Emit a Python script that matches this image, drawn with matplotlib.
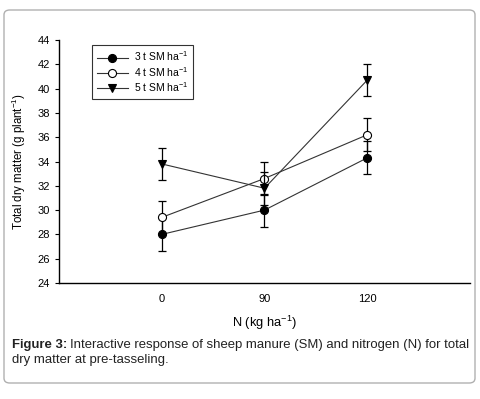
import matplotlib.pyplot as plt
from matplotlib.patches import FancyBboxPatch

plt.rcParams['font.family'] = ['Liberation Sans', 'DejaVu Sans']
plt.rcParams['mathtext.fontset'] = 'custom'
plt.rcParams['mathtext.rm'] = 'Liberation Sans'
plt.rcParams['mathtext.it'] = 'Liberation Sans:italic'
plt.rcParams['mathtext.bf'] = 'Liberation Sans:bold'

# 데이터
n_labels = ['0', '90', '120']
sm3 = [28.0, 30.0, 34.3]
sm4 = [29.4, 32.6, 36.2]
sm5 = [33.8, 31.8, 40.7]
err = [1.35, 1.35, 1.35]

fig = plt.figure(figsize=(4.81, 3.99), dpi=100)

# 바깥 테두리
box = FancyBboxPatch((4 / 481, 16 / 399), 471 / 481, 373 / 399,
                     boxstyle='round,pad=0,rounding_size=0.012',
                     transform=fig.transFigure, fill=False,
                     edgecolor='#b0b0b0', linewidth=1.0)
fig.patches.append(box)

ax = fig.add_axes([59 / 481, 1 - 283 / 399, 411 / 481, 243 / 399])
x = [1, 2, 3]

for y, mfc, mk, lab in [(sm3, 'black', 'o', '3 t SM ha$^{-1}$'),
                        (sm4, 'white', 'o', '4 t SM ha$^{-1}$'),
                        (sm5, 'black', 'v', '5 t SM ha$^{-1}$')]:
    ax.errorbar(x, y, yerr=err, fmt='none', ecolor='black', elinewidth=0.9,
                capsize=3, capthick=0.9)
    ax.plot(x, y, color='#333333', lw=0.8, marker=mk, ms=5.8,
            mfc=mfc, mec='black', mew=0.8, label=lab)

ax.set_xlim(0, 4)
ax.set_ylim(24, 44)
ax.set_yticks(range(24, 45, 2))
ax.set_xticks(x)
ax.set_xticklabels(n_labels)
ax.tick_params(axis='both', labelsize=8, width=0.8, length=3)
ax.tick_params(axis='x', length=0, pad=8)
for s in ['top', 'right']:
    ax.spines[s].set_visible(False)
for s in ['left', 'bottom']:
    ax.spines[s].set_linewidth(1.0)

ax.set_xlabel('N (kg ha$^{-1}$)', fontsize=9.3, labelpad=7)
ax.set_ylabel('Total dry matter (g plant$^{-1}$)', fontsize=8.3, labelpad=7)

leg = ax.legend(loc='upper left', bbox_to_anchor=(0.08, 0.98), fontsize=7.5,
                frameon=True, fancybox=False, edgecolor='black',
                handlelength=3, borderpad=0.45, labelspacing=0.15,
                handletextpad=0.6, borderaxespad=0)
leg.get_frame().set_linewidth(0.8)

# 캡션
fs = 9.45
t1 = fig.text(12 / 481, 1 - 348 / 399, 'Figure 3:', fontsize=fs,
              fontweight='bold', color='#222222', va='baseline')
fig.canvas.draw()
bb = t1.get_window_extent()
x2 = fig.transFigure.inverted().transform((bb.x1 + 3, 0))[0]
fig.text(x2, 1 - 348 / 399,
         'Interactive response of sheep manure (SM) and nitrogen (N) for total',
         fontsize=fs, color='#222222', va='baseline')
fig.text(12 / 481, 1 - 363 / 399, 'dry matter at pre-tasseling.',
         fontsize=fs, color='#222222', va='baseline')

fig.savefig('out.png', dpi=100)
